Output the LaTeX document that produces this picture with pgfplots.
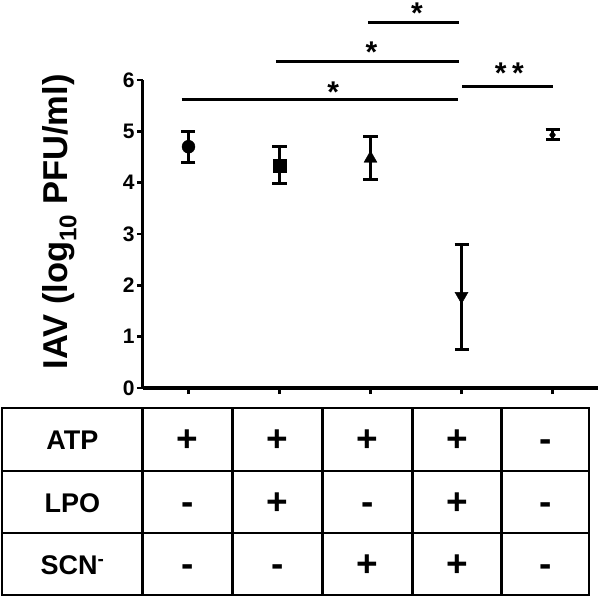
\documentclass[border=0pt]{standalone}
\usepackage{fontspec}
\setmainfont{Liberation Sans}
\usepackage{pgfplots}
\pgfplotsset{compat=1.18}

\newcommand{\hd}{\fontsize{27bp}{30bp}\selectfont\bfseries}
\newcommand{\sg}{\fontsize{37bp}{40bp}\selectfont\bfseries}
\newcommand{\st}{\fontsize{30bp}{32bp}\selectfont\bfseries}

\pgfplotsset{eb/.style={black, only marks,
    error bars/.cd, y dir=both, y explicit,
    error bar style={line width=3bp},
    error mark options={rotate=90, mark size=7bp, line width=3bp}}}

\begin{document}
\begin{tikzpicture}
\begin{axis}[
    scale only axis,
    width=455bp, height=308bp,
    xmin=0.5, xmax=5.5,
    ymin=0, ymax=6,
    axis x line*=bottom,
    axis y line*=left,
    axis line style={line width=3bp, black},
    xtick={1,...,5},
    xticklabels={},
    ytick={0,...,6},
    tick align=outside,
    major tick length=6bp,
    tick style={line width=2.5bp, black},
    /pgf/number format/assume math mode=true,
    tick label style={font=\fontsize{21bp}{23bp}\selectfont\bfseries},
    yticklabel style={xshift=1bp},
    ylabel={IAV (log\textsubscript{10} PFU/ml)},
    ylabel style={font=\fontsize{34.5bp}{37bp}\selectfont\bfseries,
        at={(axis description cs:-0.165,0.539)}, anchor=base},
    clip=false,
]
\addplot[mark=*, mark size=6.5bp, mark options={fill=black}, eb] coordinates {(1,4.70) += (0,0.30) -= (0,0.30)};
\addplot[mark=square*, mark size=6.5bp, mark options={fill=black}, eb] coordinates {(2,4.33) += (0,0.38) -= (0,0.34)};
\addplot[mark=triangle*, mark size=7.5bp, mark options={fill=black}, eb] coordinates {(3,4.47) += (0,0.43) -= (0,0.40)};
\addplot[mark=triangle*, mark size=7.5bp, mark options={fill=black, rotate=180}, eb] coordinates {(4,1.79) += (0,1.01) -= (0,1.04)};
\addplot[mark=diamond*, mark size=4bp, mark options={fill=black}, eb] coordinates {(5,4.93) += (0,0.10) -= (0,0.08)};

% significance bars
\draw[line width=3bp] (axis cs:0.925,5.62) -- (axis cs:3.96,5.62);
\draw[line width=3bp] (axis cs:1.96,6.37) -- (axis cs:3.97,6.37);
\draw[line width=3bp] (axis cs:2.97,7.12) -- (axis cs:3.97,7.12);
\draw[line width=3bp] (axis cs:4.01,5.87) -- (axis cs:5.01,5.87);
\node[anchor=north, inner sep=0pt, font=\st] at (axis cs:2.59,5.96) {*};
\node[anchor=north, inner sep=0pt, font=\st] at (axis cs:3.01,6.74) {*};
\node[anchor=north, inner sep=0pt, font=\st] at (axis cs:3.51,7.50) {*};
\node[anchor=north, inner sep=0pt, font=\st] at (axis cs:4.43,6.33) {*};
\node[anchor=north, inner sep=0pt, font=\st] at (axis cs:4.62,6.33) {*};
\end{axis}

% condition table
\begin{scope}[line width=2.5bp]
\draw (-141bp,-20bp) rectangle (446bp,-207bp);
\foreach \x in {-0.3,89.7,179.5,269.3,358.7}
  \draw (\x bp,-20bp) -- (\x bp,-207bp);
\foreach \y in {-83,-145}
  \draw (-141bp,\y bp) -- (446bp,\y bp);
\end{scope}
\node[anchor=base, inner sep=0pt, font=\hd] at (-70.6bp,-61.5bp) {ATP};
\node[anchor=base, inner sep=0pt, font=\hd] at (-70.6bp,-124bp) {LPO};
\node[anchor=base, inner sep=0pt, font=\hd] at (-70.6bp,-186bp) {SCN\textsuperscript{-}};
\foreach \x/\a/\b/\c in {44.7/+/-/-, 134.6/+/+/-, 224.4/+/-/+, 314/+/+/+, 402.4/-/-/-}{
  \node[anchor=base, inner sep=0pt, font=\sg] at (\x bp,-63.5bp) {\a};
  \node[anchor=base, inner sep=0pt, font=\sg] at (\x bp,-126bp) {\b};
  \node[anchor=base, inner sep=0pt, font=\sg] at (\x bp,-188bp) {\c};
}
\pgfresetboundingbox
\useasboundingbox (-143bp,-209bp) rectangle (457bp,388bp);
\end{tikzpicture}
\end{document}
